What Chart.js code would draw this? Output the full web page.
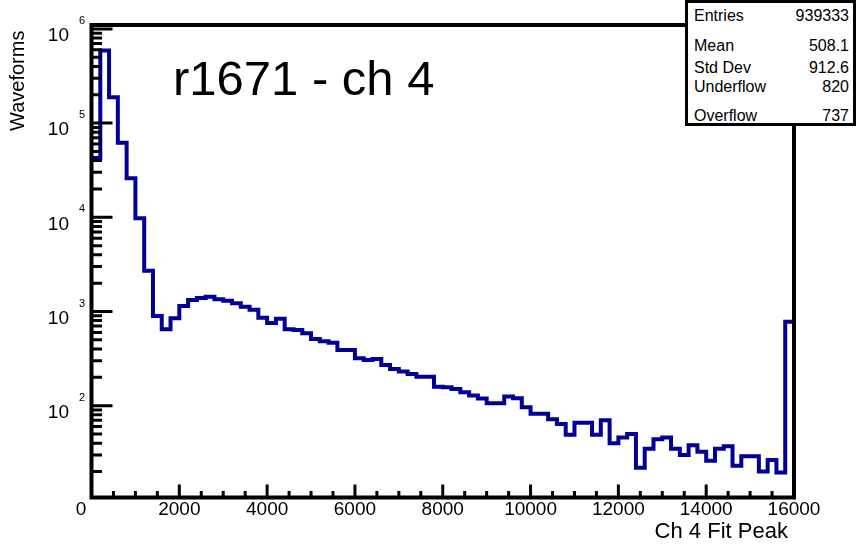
<!DOCTYPE html>
<html>
<head>
<meta charset="utf-8">
<script src="https://cdn.jsdelivr.net/npm/chart.js@4.4.1/dist/chart.umd.min.js"></script>
<style>
  body { margin: 0; background: #fff; }
  #wrap { position: relative; width: 860px; height: 545px; font-family: 'Liberation Sans', Arial, Helvetica, sans-serif; }
  #hist { position: absolute; left: 0; top: 0; }
  #title { position: absolute; left: 173px; top: 54px; font-size: 49px; line-height: 49px; color: #000; white-space: nowrap; }
  #stats { position: absolute; left: 685px; top: 0; width: 171px; height: 126px; box-sizing: border-box;
           border: 3px solid #000; background: #fff; overflow: hidden; }
  #stats .row { position: absolute; left: 6px; right: 4px; font-size: 16px; line-height: 16px; color: #000;
                display: flex; justify-content: space-between; white-space: nowrap; }
</style>
</head>
<body>
<div id="wrap">
  <canvas id="hist" width="860" height="545"></canvas>
  <div id="title">r1671 - ch 4</div>
  <div id="stats"></div>
</div>
<script>
// histogram: 80 bins of 200 from 0 to 16000
const binWidth = 200;
const counts = [
  42700, 590000, 188000, 62000, 26000, 9750, 2710, 896, 647, 847,
  1143, 1325, 1390, 1436, 1350, 1303, 1222, 1125, 1045, 860,
  755, 835, 647, 636, 587, 511, 483, 467, 390, 390,
  318, 305, 313, 270, 245, 230, 217, 203, 203, 159,
  157, 150, 139, 128, 119, 106, 106, 125, 120, 96,
  82, 82, 72, 64, 49, 66, 66, 49, 70, 40,
  46, 50, 22, 35, 44, 46, 35, 30, 38, 32.5,
  26, 35, 37, 23, 29, 29, 20, 26.5, 19.5, 780
];
const xTicks = [0, 2000, 4000, 6000, 8000, 10000, 12000, 14000, 16000];
const yTicks = [100, 1000, 10000, 100000, 1000000];
const statLabels = ['Entries', 'Mean', 'Std Dev', 'Underflow', 'Overflow'];
const statValues = ['939333', '508.1', '912.6', '820', '737'];

const lineColor = '#000099';
const fontFamily = "'Liberation Sans', Arial, Helvetica, sans-serif";

// stats box rows (ROOT spacing is not even)
const rowTops = [5, 35, 57, 76, 105];
const statsBox = document.getElementById('stats');
statLabels.forEach((lab, i) => {
  const row = document.createElement('div');
  row.className = 'row';
  row.style.top = rowTops[i] + 'px';
  row.innerHTML = '<span>' + lab + '</span><span>' + statValues[i] + '</span>';
  statsBox.appendChild(row);
});

// step points at bin low edges, plus closing point at the upper edge
const points = counts.map((c, i) => ({ x: i * binWidth, y: c }));
points.push({ x: counts.length * binWidth, y: counts[counts.length - 1] });

// ROOT-style frame, inward ticks and 10^n labels
const rootAxes = {
  id: 'rootAxes',
  afterDraw(chart) {
    const { ctx, chartArea: a, scales: { x, y } } = chart;
    ctx.save();
    ctx.strokeStyle = '#000';
    ctx.lineWidth = 3;
    ctx.beginPath();
    for (let v = 0; v <= 16000; v += 500) {
      const px = x.getPixelForValue(v);
      const len = v % 2000 === 0 ? 13 : 6.5;
      ctx.moveTo(px, a.bottom);
      ctx.lineTo(px, a.bottom - len);
    }
    for (let e = 1; e <= 6; e++) {
      for (let k = 1; k <= 9; k++) {
        const v = k * Math.pow(10, e);
        if (v < y.min || v > y.max) continue;
        const py = y.getPixelForValue(v);
        const len = k === 1 ? 21 : 10.5;
        ctx.moveTo(a.left, py);
        ctx.lineTo(a.left + len, py);
      }
    }
    ctx.stroke();

    ctx.lineWidth = 4;
    ctx.strokeRect(a.left, a.top, a.right - a.left, a.bottom - a.top);

    ctx.fillStyle = '#000';
    ctx.textBaseline = 'middle';
    yTicks.forEach(v => {
      const py = y.getPixelForValue(v);
      const exp = Math.round(Math.log10(v));
      ctx.font = '19px ' + fontFamily;
      ctx.textAlign = 'right';
      ctx.fillText('10', 69, py + 7);
      ctx.font = '11px ' + fontFamily;
      ctx.textAlign = 'left';
      ctx.fillText(String(exp), 79, py - 8);
    });
    ctx.restore();
  }
};

new Chart(document.getElementById('hist'), {
  type: 'line',
  data: {
    datasets: [{
      data: points,
      stepped: 'before',
      borderColor: lineColor,
      borderWidth: 4,
      pointRadius: 0,
      fill: false,
      tension: 0,
    }],
  },
  options: {
    responsive: false,
    animation: false,
    devicePixelRatio: 1,
    layout: { padding: { left: 0, right: 66, top: 25, bottom: 0 } },
    plugins: { legend: { display: false }, tooltip: { enabled: false } },
    scales: {
      x: {
        type: 'linear',
        min: 0,
        max: 16000,
        grid: { display: false, drawTicks: false },
        border: { display: false },
        afterBuildTicks: s => { s.ticks = xTicks.map(v => ({ value: v })); },
        afterFit: s => { s.height = 47.5; },
        ticks: {
          color: '#000',
          padding: 1,
          maxRotation: 0,
          autoSkip: false,
          font: { family: fontFamily, size: 19 },
          callback: v => (v === 0 ? '0    ' : String(v)),
        },
        title: {
          display: true,
          text: 'Ch 4 Fit Peak ',
          align: 'end',
          color: '#000',
          font: { family: fontFamily, size: 22 },
          padding: { top: 0, bottom: 0 },
        },
      },
      y: {
        type: 'logarithmic',
        min: 10.6,
        max: 1.1e6,
        grid: { display: false, drawTicks: false },
        border: { display: false },
        afterBuildTicks: s => { s.ticks = yTicks.map(v => ({ value: v })); },
        afterFit: s => { s.width = 91.5; },
        ticks: { display: false },
        title: {
          display: true,
          text: 'Waveforms ',
          align: 'end',
          color: '#000',
          font: { family: fontFamily, size: 20 },
          padding: { top: 6, bottom: 0 },
        },
      },
    },
  },
  plugins: [rootAxes],
});
</script>
</body>
</html>
